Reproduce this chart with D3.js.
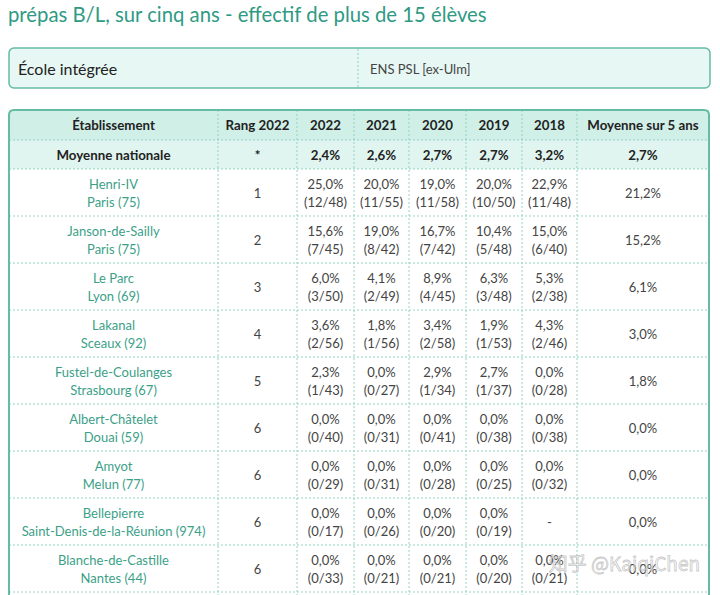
<!DOCTYPE html>
<html><head><meta charset="utf-8">
<script src="https://cdn.jsdelivr.net/npm/d3@7"></script>
<style>html,body{margin:0;padding:0;background:#fff;overflow:hidden}svg{display:block;font-family:Lato,"Noto Sans",sans-serif}</style>
</head><body><svg id="c" width="720" height="595"></svg>
<script>
const title = "prépas B/L, sur cinq ans - effectif de plus de 15 élèves";
const ecoleLabel = "École intégrée";
const ecoleValue = "ENS PSL [ex-Ulm]";
const headers = ["Établissement","Rang 2022","2022","2021","2020","2019","2018","Moyenne sur 5 ans"];
const years = ["2022","2021","2020","2019","2018"];
const nationalLabel = "Moyenne nationale";
const nationalRank = "*";
const nationalPct = [2.4,2.6,2.7,2.7,3.2];
const nationalAvg = 2.7;
const schools = ["Henri-IV","Janson-de-Sailly","Le Parc","Lakanal","Fustel-de-Coulanges","Albert-Châtelet","Amyot","Bellepierre","Blanche-de-Castille"];
const cities = ["Paris (75)","Paris (75)","Lyon (69)","Sceaux (92)","Strasbourg (67)","Douai (59)","Melun (77)","Saint-Denis-de-la-Réunion (974)","Nantes (44)"];
const ranks = [1,2,3,4,5,6,6,6,6];
const pct2022 = [25.0,15.6,6.0,3.6,2.3,0,0,0,0];
const adm2022 = [12,7,3,2,1,0,0,0,0];
const tot2022 = [48,45,50,56,43,40,29,17,33];
const pct2021 = [20.0,19.0,4.1,1.8,0,0,0,0,0];
const adm2021 = [11,8,2,1,0,0,0,0,0];
const tot2021 = [55,42,49,56,27,31,31,26,21];
const pct2020 = [19.0,16.7,8.9,3.4,2.9,0,0,0,0];
const adm2020 = [11,7,4,2,1,0,0,0,0];
const tot2020 = [58,42,45,58,34,41,28,20,21];
const pct2019 = [20.0,10.4,6.3,1.9,2.7,0,0,0,0];
const adm2019 = [10,5,3,1,1,0,0,0,0];
const tot2019 = [50,48,48,53,37,38,25,19,20];
const pct2018 = [22.9,15.0,5.3,4.3,0,0,0,null,0];
const adm2018 = [11,6,2,2,0,0,0,null,0];
const tot2018 = [48,40,38,46,28,38,32,null,21];
const avg5 = [21.2,15.2,6.1,3.0,1.8,0,0,0,0];
const watermark = "知乎 @KaiqiChen";

const yearData = {
  "2022": {pct: pct2022, adm: adm2022, tot: tot2022},
  "2021": {pct: pct2021, adm: adm2021, tot: tot2021},
  "2020": {pct: pct2020, adm: adm2020, tot: tot2020},
  "2019": {pct: pct2019, adm: adm2019, tot: tot2019},
  "2018": {pct: pct2018, adm: adm2018, tot: tot2018}
};

const fmt = v => d3.format(".1f")(v).replace(".", ",") + "%";

const teal = "#3c9f88", border = "#66bba5", grid = "#93d2c3", textc = "#444", dark = "#222";
const svg = d3.select("#c");

// title
svg.append("text").attr("x", 8).attr("y", 22).attr("fill", "#2f9a84")
  .attr("font-size", 20.3).text(title);

// École box
const bx0 = 9, bx1 = 710;
svg.append("rect").attr("x", bx0).attr("y", 48).attr("width", bx1 - bx0).attr("height", 40)
  .attr("rx", 5).attr("fill", "#e7f7f3").attr("stroke", border).attr("stroke-width", 1.5);
svg.append("line").attr("x1", 358).attr("x2", 358).attr("y1", 49).attr("y2", 87)
  .attr("stroke", grid).attr("stroke-dasharray", "2,2");
svg.append("text").attr("x", 18).attr("y", 68.5).attr("dominant-baseline", "central")
  .attr("font-size", 16).attr("fill", dark).text(ecoleLabel);
svg.append("text").attr("x", 370).attr("y", 68.5).attr("dominant-baseline", "central")
  .attr("font-size", 13).attr("fill", textc).text(ecoleValue);

// columns
const colEdges = [9, 218, 297, 354, 409, 466, 522, 577, 709];
const colX = d3.scaleOrdinal().domain(headers).range(colEdges.slice(0, -1));
const colW = d3.scaleOrdinal().domain(headers).range(colEdges.slice(1).map((e, i) => e - colEdges[i]));
const cx = h => colX(h) + colW(h) / 2;

// rows
const tableTop = 110, headH = 30, natH = 29;
const rowY = d3.scaleBand().domain(schools.map((s, i) => i)).range([tableTop + headH + natH, tableTop + headH + natH + 47 * schools.length]).padding(0);

const tx0 = 9, tx1 = 709;
const g = svg.append("g");
const tblBottom = 640;
const outline = `M${tx0},${tblBottom} V${tableTop + 5} Q${tx0},${tableTop} ${tx0 + 5},${tableTop} H${tx1 - 5} Q${tx1},${tableTop} ${tx1},${tableTop + 5} V${tblBottom}`;
g.append("path").attr("d", outline).attr("fill", "#fff");
g.append("rect").attr("x", tx0).attr("y", tableTop).attr("width", tx1 - tx0).attr("height", headH).attr("fill", "#d0efe7");
g.append("rect").attr("x", tx0).attr("y", tableTop + headH).attr("width", tx1 - tx0).attr("height", natH).attr("fill", "#e1f5f0");

// horizontal grid
const hLines = [tableTop + headH, tableTop + headH + natH].concat(schools.map((s, i) => rowY(i) + rowY.bandwidth()));
g.selectAll("line.h").data(hLines).join("line").attr("class", "h")
  .attr("x1", tx0).attr("x2", tx1).attr("y1", d => d).attr("y2", d => d)
  .attr("stroke", grid).attr("stroke-dasharray", "2,2");
// vertical grid
g.selectAll("line.v").data(headers.slice(1)).join("line").attr("class", "v")
  .attr("x1", d => colX(d)).attr("x2", d => colX(d)).attr("y1", tableTop).attr("y2", tblBottom)
  .attr("stroke", grid).attr("stroke-dasharray", "2,2");

// outer border
g.append("path").attr("d", outline).attr("fill", "none").attr("stroke", border).attr("stroke-width", 2);

// header texts
g.selectAll("text.hd").data(headers).join("text").attr("class", "hd")
  .attr("x", d => cx(d)).attr("y", tableTop + headH / 2).attr("text-anchor", "middle")
  .attr("dominant-baseline", "central").attr("font-weight", "bold").attr("font-size", 13.3).attr("fill", dark).text(d => d);

// national row
const natY = tableTop + headH + natH / 2;
const natCells = [[headers[0], nationalLabel], [headers[1], nationalRank]]
  .concat(years.map((y, i) => [y, fmt(nationalPct[i])])).concat([[headers[7], fmt(nationalAvg)]]);
g.selectAll("text.nat").data(natCells).join("text").attr("class", "nat")
  .attr("x", d => cx(d[0])).attr("y", natY).attr("text-anchor", "middle").attr("dominant-baseline", "central")
  .attr("font-weight", "bold").attr("font-size", 13.3).attr("fill", dark).text(d => d[1]);

// data rows
const rows = g.selectAll("g.row").data(schools.map((s, i) => i)).join("g").attr("class", "row")
  .attr("transform", i => `translate(0,${rowY(i) + rowY.bandwidth() / 2})`);
rows.append("text").attr("x", cx(headers[0])).attr("y", -9).attr("text-anchor", "middle").attr("dominant-baseline", "central")
  .attr("font-size", 13).attr("fill", teal).text(i => schools[i]);
rows.append("text").attr("x", cx(headers[0])).attr("y", 9).attr("text-anchor", "middle").attr("dominant-baseline", "central")
  .attr("font-size", 13).attr("fill", teal).text(i => cities[i]);
rows.append("text").attr("x", cx(headers[1])).attr("y", 0).attr("text-anchor", "middle").attr("dominant-baseline", "central")
  .attr("font-size", 13).attr("fill", textc).text(i => ranks[i]);
years.forEach(y => {
  const d = yearData[y];
  rows.each(function(i) {
    const r = d3.select(this);
    if (d.pct[i] == null) {
      r.append("text").attr("x", cx(y)).attr("y", 0).attr("text-anchor", "middle").attr("dominant-baseline", "central")
        .attr("font-size", 13).attr("fill", textc).text("-");
    } else {
      r.append("text").attr("x", cx(y)).attr("y", -9).attr("text-anchor", "middle").attr("dominant-baseline", "central")
        .attr("font-size", 13).attr("fill", textc).text(fmt(d.pct[i]));
      r.append("text").attr("x", cx(y)).attr("y", 9).attr("text-anchor", "middle").attr("dominant-baseline", "central")
        .attr("font-size", 13).attr("fill", textc).text(`(${d.adm[i]}/${d.tot[i]})`);
    }
  });
});
rows.append("text").attr("x", cx(headers[7])).attr("y", 0).attr("text-anchor", "middle").attr("dominant-baseline", "central")
  .attr("font-size", 13).attr("fill", textc).text(i => fmt(avg5[i]));

// watermark (overlaid on the table, as in the source image)
svg.append("text").attr("x", 700).attr("y", 562).attr("text-anchor", "end").attr("dominant-baseline", "central")
  .attr("font-size", 19).attr("fill", "rgba(255,255,255,0.55)").attr("stroke", "rgba(150,150,150,0.55)").attr("stroke-width", 0.8)
  .attr("font-family", "'Noto Sans CJK SC', sans-serif").text(watermark);
</script></body></html>
